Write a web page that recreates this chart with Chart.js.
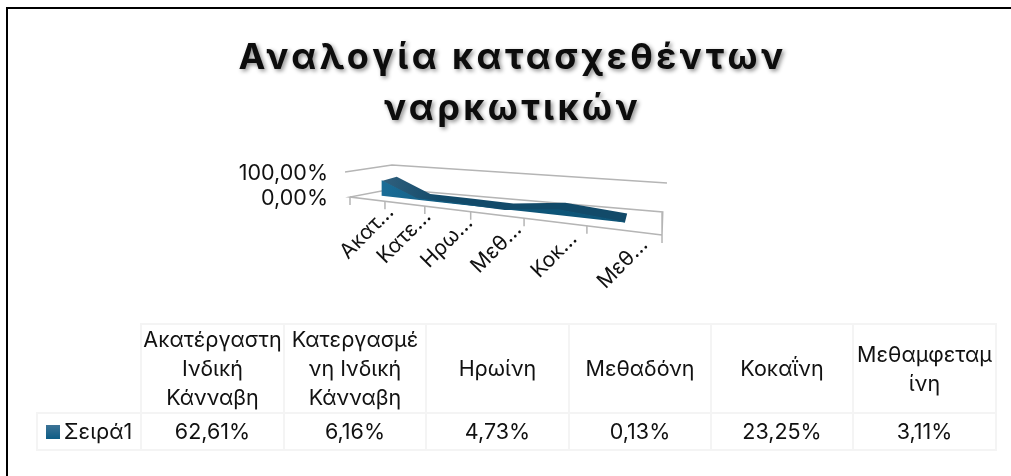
<!doctype html>
<html>
	<head>
		<meta charset="utf-8" />
		<title>Αναλογία κατασχεθέντων ναρκωτικών</title>
		<script src="https://cdn.jsdelivr.net/npm/chart.js@4/dist/chart.umd.min.js"></script>
		<style>
			html,
			body {
				margin: 0;
				padding: 0;
				background: #fff;
				overflow: hidden;
			}
			#frame {
				position: absolute;
				left: 6px;
				top: 7px;
				width: 1100px;
				height: 600px;
				border-left: 2px solid #000;
				border-top: 2px solid #000;
			}
			canvas {
				position: absolute;
				left: 0;
				top: 0;
			}
			table {
				position: absolute;
				left: 36px;
				top: 323px;
				width: 959px;
				table-layout: fixed;
				border-collapse: collapse;
				font: 21.5px Inter, sans-serif;
				line-height: 29px;
				color: #111;
				text-align: center;
			}
			td {
				border: 2px solid #f4f4f4;
				padding: 0;
				white-space: pre-line;
				height: 87px;
			}
			tr + tr td {
				height: 35px;
				white-space: nowrap;
			}
			td.blank {
				border: 0;
				border-right: 2px solid #f4f4f4;
				border-bottom: 2px solid #f4f4f4;
			}
			.swatch {
				display: inline-block;
				width: 14px;
				height: 14px;
				margin-right: 4px;
				background: linear-gradient(#3d7396, #0c5c85);
			}
		</style>
	</head>

	<body>
		<div id="frame"></div>
		<canvas id="chartJSContainer" width="1011" height="476"></canvas>
		<table id="dataTable"></table>

		<script>
			const chartTitle = ["Αναλογία κατασχεθέντων", "ναρκωτικών"];
			const categories = [
				"Ακατέργαστη\nΙνδική\nΚάνναβη",
				"Κατεργασμέ\nνη Ινδική\nΚάνναβη",
				"Ηρωίνη",
				"Μεθαδόνη",
				"Κοκαΐνη",
				"Μεθαμφεταμ\nίνη",
			];
			const axisLabels = ["Ακατ…", "Κατε…", "Ηρω…", "Μεθ…", "Κοκ…", "Μεθ…"];
			const seriesName = "Σειρά1";
			const seriesValues = [62.61, 6.16, 4.73, 0.13, 23.25, 3.11];
			const yTicks = [0, 100];

			const percent = (v) => v.toFixed(2).replace(".", ",") + "%";

			// fake 3d floor, in scale units: t runs along the categories, d from front to back
			const frontLeft = [1.49, 0],
				frontRight = [47.99, -152],
				backLeft = [7.75, 32],
				backRight = [48.1, -60],
				perspective = 1.585,
				seriesFront = 0.37,
				seriesBack = 0.75;

			function project(t, d, value) {
				const p = t / (t + perspective * (1 - t));
				const fx = frontLeft[0] + (frontRight[0] - frontLeft[0]) * p,
					fy = frontLeft[1] + (frontRight[1] - frontLeft[1]) * p,
					bx = backLeft[0] + (backRight[0] - backLeft[0]) * p,
					by = backLeft[1] + (backRight[1] - backLeft[1]) * p;
				return { x: fx + (bx - fx) * d, y: fy + (by - fy) * d + value };
			}

			const n = categories.length;
			const center = (i) => (i + 0.5) / n;

			// near edge tucked a little under the front face so no seam shows
			function topFace() {
				const near = seriesValues.map((v, i) =>
					project(center(i), seriesFront, v - 3),
				);
				const far = seriesValues.map((v, i) =>
					project(center(i), seriesBack, v),
				);
				return [...near, ...far.reverse(), near[0]];
			}

			function frontFace() {
				const upper = seriesValues.map((v, i) =>
					project(center(i), seriesFront, v),
				);
				const lower = seriesValues.map((v, i) =>
					project(center(i), seriesFront, 0),
				);
				return [...upper, ...lower.reverse(), upper[0]];
			}

			function tickMarks() {
				const pts = [];
				for (let i = 0; i <= n; i++) {
					const p = project(i / n, 0, 0);
					pts.push(p, { x: p.x, y: p.y - 32 }, { x: p.x, y: null });
				}
				return pts;
			}

			const floorLines = [
				project(1, 0, 0),
				project(0, 0, 0),
				project(0, 1, 0),
				project(1, 1, 0),
				project(1, 0, 0),
			];
			const wallTop = [
				{ x: 0.75, y: 100 },
				{ x: 7.75, y: 128 },
				{ x: 48.73, y: 56 },
			];

			function edge(data) {
				return {
					data,
					borderColor: "#b5b5b5",
					borderWidth: 1.5,
					pointRadius: 0,
					fill: false,
					clip: false,
					spanGaps: false,
					order: 3,
				};
			}

			function gradient(context, x0, y0, x1, y1, from, to) {
				const { chart } = context;
				if (!chart.chartArea) return to;
				const g = chart.ctx.createLinearGradient(x0, y0, x1, y1);
				g.addColorStop(0, from);
				g.addColorStop(1, to);
				return g;
			}

			const datasets = [
				edge(wallTop),
				edge(floorLines),
				edge(tickMarks()),
				{
					data: topFace(),
					borderWidth: 0,
					pointRadius: 0,
					backgroundColor: (c) =>
						gradient(c, 385, 0, 440, 0, "#2f5f7d", "#124a69"),
					fill: "shape",
					order: 2,
				},
				{
					data: frontFace(),
					borderWidth: 0,
					pointRadius: 0,
					backgroundColor: (c) =>
						gradient(c, 385, 0, 470, 0, "#1a6c96", "#0e5578"),
					fill: "shape",
					order: 1,
				},
			];

			// title shadow and tracking, dropped again before the marks are drawn
			const titleStyle = {
				id: "titleStyle",
				beforeDraw(chart) {
					const c = chart.ctx;
					c.letterSpacing = "3.4px";
					c.shadowColor = "rgba(0,0,0,0.45)";
					c.shadowBlur = 4;
					c.shadowOffsetX = 2;
					c.shadowOffsetY = 2;
				},
				beforeDatasetsDraw(chart) {
					const c = chart.ctx;
					c.letterSpacing = "0px";
					c.shadowColor = "transparent";
					c.shadowBlur = 0;
					c.shadowOffsetX = 0;
					c.shadowOffsetY = 0;
				},
			};

			// slanted category labels follow the front edge of the floor
			const slantedLabels = {
				id: "slantedLabels",
				afterDraw(chart) {
					const c = chart.ctx,
						{ x, y } = chart.scales;
					c.save();
					c.font = "21px Inter, sans-serif";
					c.fillStyle = "#111";
					c.textAlign = "center";
					c.textBaseline = "middle";
					axisLabels.forEach((label, i) => {
						const p = project(center(i), 0, 0);
						c.save();
						c.translate(x.getPixelForValue(p.x), y.getPixelForValue(p.y) + 33);
						c.rotate(-Math.PI / 4);
						c.fillText(label, 0, 0);
						c.restore();
					});
					c.restore();
				},
			};

			new Chart(document.getElementById("chartJSContainer"), {
				type: "line",
				data: { datasets },
				options: {
					responsive: false,
					animation: false,
					layout: { padding: { left: 14, bottom: 226 } },
					plugins: {
						legend: { display: false },
						tooltip: { enabled: false },
						title: {
							display: true,
							text: chartTitle,
							color: "#0d0d0d",
							font: {
								family: "Inter, sans-serif",
								size: 36,
								weight: "bold",
								lineHeight: 1.417,
							},
							padding: { top: 33, bottom: 25 },
						},
					},
					scales: {
						x: { type: "linear", display: false, min: 0, max: 100 },
						y: {
							type: "linear",
							min: -212,
							max: 148,
							grid: { display: false },
							border: { display: false },
							afterFit: (scale) => {
								scale.width = 326;
							},
							afterBuildTicks: (scale) => {
								scale.ticks = yTicks.map((value) => ({ value }));
							},
							ticks: {
								z: 1,
								padding: 4,
								labelOffset: 2,
								color: "#111",
								font: { family: "Inter, sans-serif", size: 21.5 },
								callback: (v) => percent(v),
							},
						},
					},
				},
				plugins: [titleStyle, slantedLabels],
			});

			// data table under the plot
			const columnWidths = [104, 143, 142, 143, 142, 142, 143];
			const table = document.getElementById("dataTable");
			const colgroup = document.createElement("colgroup");
			columnWidths.forEach((w) => {
				const col = document.createElement("col");
				col.style.width = w + "px";
				colgroup.appendChild(col);
			});
			table.appendChild(colgroup);
			const head = table.insertRow(),
				body = table.insertRow();
			head.insertCell().className = "blank";
			categories.forEach((name) => {
				head.insertCell().textContent = name;
			});
			const key = body.insertCell();
			key.innerHTML = '<span class="swatch"></span>' + seriesName;
			seriesValues.forEach((v) => {
				body.insertCell().textContent = percent(v);
			});
		</script>
	</body>
</html>
